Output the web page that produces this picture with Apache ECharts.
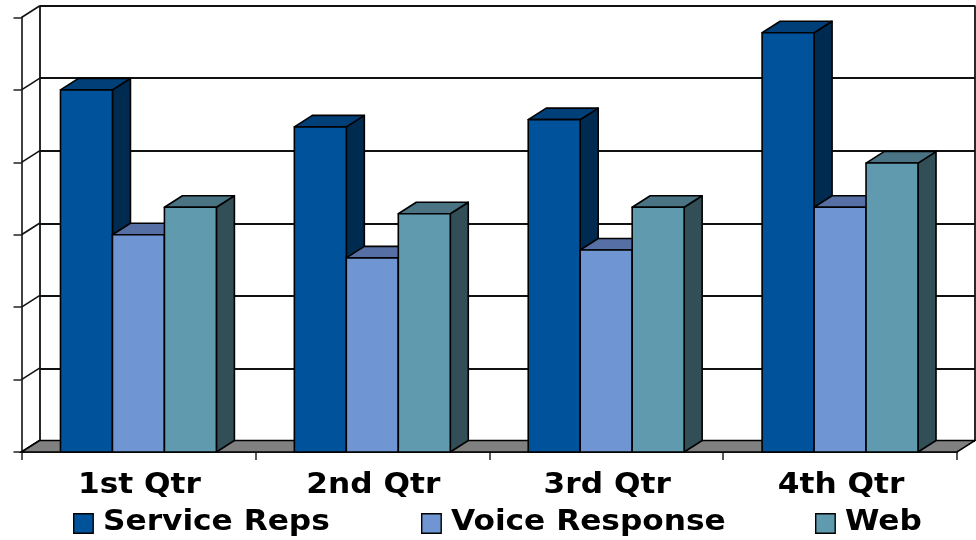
<!DOCTYPE html>
<html>
<head>
<meta charset="utf-8">
<style>html,body{margin:0;padding:0;background:#fff}#chart{width:976px;height:540px}</style>
<script src="https://cdn.jsdelivr.net/npm/echarts@6/dist/echarts.min.js"></script>
</head>
<body>
<div id="chart"></div>
<script>
const categories = ['1st Qtr', '2nd Qtr', '3rd Qtr', '4th Qtr'];
const seriesNames = ['Service Reps', 'Voice Response', 'Web'];
const serviceReps = [50, 44.9, 45.9, 57.9];
const voiceResponse = [30, 26.8, 27.9, 33.8];
const web = [33.8, 32.9, 33.8, 39.9];
const valueTicks = [0, 10, 20, 30, 40, 50, 60];

// Oblique projection of the box depth, in pixels
const DEPTH_X = 18;
const DEPTH_Y = 11.5;
const EDGE = '#000';

// Text is set in a wide bold face: DejaVu Sans Bold stretched horizontally
const TEXT = { fill: '#000', fontFamily: 'DejaVu Sans', fontWeight: 'bold', fontSize: 28 };
const TEXT_STRETCH = 1.115;

const FACES = [
  { front: '#00529b', top: '#003f78', side: '#002b50' },
  { front: '#6f96d3', top: '#5670a5', side: '#3b5278' },
  { front: '#5f9aae', top: '#4a7383', side: '#324f58' }
];

function box3d(slot, faces) {
  return function (params, api) {
    const base = api.coord([api.value(0), 0]);
    const head = api.coord([api.value(0), api.value(1)]);
    const w = api.size([1, 0])[0] / 4.5;
    const x0 = base[0] + (slot - 0.5) * w;
    const x1 = x0 + w;
    const y0 = base[1];
    const y1 = head[1];
    const line = { stroke: EDGE, lineWidth: 1.6, lineJoin: 'round' };
    const poly = (points, fill) => ({
      type: 'polygon', shape: { points }, style: Object.assign({ fill }, line)
    });
    return {
      type: 'group',
      children: [
        poly([[x1, y0], [x1 + DEPTH_X, y0 - DEPTH_Y], [x1 + DEPTH_X, y1 - DEPTH_Y], [x1, y1]], faces.side),
        poly([[x0, y1], [x1, y1], [x1 + DEPTH_X, y1 - DEPTH_Y], [x0 + DEPTH_X, y1 - DEPTH_Y]], faces.top),
        poly([[x0, y0], [x1, y0], [x1, y1], [x0, y1]], faces.front)
      ]
    };
  };
}

function barSeries(name, values, slot, faces) {
  return {
    name,
    type: 'custom',
    xAxisIndex: 0,
    yAxisIndex: 0,
    z: 5,
    clip: false,
    itemStyle: { color: faces.front },
    encode: { x: 0, y: 1 },
    data: values.map((v, i) => [categories[i], v]),
    renderItem: box3d(slot, faces)
  };
}

// Grey floor between the front axis and the back wall
function renderFloor(params) {
  const cs = params.coordSys;
  const y = cs.y + cs.height;
  const x0 = cs.x, x1 = cs.x + cs.width;
  return {
    type: 'polygon',
    shape: { points: [[x0, y], [x1, y], [x1 + DEPTH_X, y - DEPTH_Y], [x0 + DEPTH_X, y - DEPTH_Y]] },
    style: { fill: '#808080', stroke: EDGE, lineWidth: 1.6 }
  };
}

// Diagonal from each value tick on the front axis to the back wall
function renderWallDiagonal(params, api) {
  const p = api.coord([categories[0], api.value(0)]);
  const x = params.coordSys.x;
  return {
    type: 'line',
    shape: { x1: x, y1: p[1], x2: x + DEPTH_X, y2: p[1] - DEPTH_Y },
    style: { stroke: '#111', lineWidth: 1.6 }
  };
}

// Category names under the axis, centred on their bands
function renderCategoryLabel(params, api) {
  const p = api.coord([api.value(0), 0]);
  return {
    type: 'text',
    x: p[0] + 1,
    y: p[1] + 33.5,
    scaleX: TEXT_STRETCH,
    style: Object.assign({ text: categories[params.dataIndex], align: 'center', verticalAlign: 'middle' }, TEXT)
  };
}

// Key row along the bottom edge: swatch left coordinate for each series
const KEY_LEFT = [73, 421, 815];
const KEY_TOP = 513;
const KEY_SIZE = 19.5;
const KEY_TEXT_OFFSET = 30;
const keyElements = seriesNames.flatMap((name, i) => [
  {
    type: 'rect', left: KEY_LEFT[i], top: KEY_TOP,
    shape: { width: KEY_SIZE, height: KEY_SIZE },
    style: { fill: FACES[i].front, stroke: EDGE, lineWidth: 1.4 }
  },
  {
    type: 'text', x: KEY_LEFT[i] + KEY_TEXT_OFFSET, y: KEY_TOP + 10,
    scaleX: TEXT_STRETCH,
    style: Object.assign({ text: name, align: 'left', verticalAlign: 'middle' }, TEXT)
  }
]);

const chart = echarts.init(document.getElementById('chart'), null, { renderer: 'canvas' });
chart.setOption({
  animation: false,
  backgroundColor: '#fff',
  grid: [
    { left: 21.5, right: 19, top: 17.5, bottom: 88 },
    { left: 39.5, right: 1, top: 5.5, bottom: 99 }
  ],
  xAxis: [
    {
      type: 'category', gridIndex: 0, data: categories,
      axisLine: { lineStyle: { color: EDGE, width: 1.6 } },
      axisTick: { show: true, length: 8, alignWithLabel: false, lineStyle: { color: '#222', width: 1.5 } },
      axisLabel: { show: false },
      splitLine: { show: false }, z: 1
    },
    {
      type: 'value', gridIndex: 1, min: 0, max: 1, interval: 1,
      axisLine: { show: false }, axisTick: { show: false }, axisLabel: { show: false },
      splitLine: { show: true, lineStyle: { color: '#111', width: 1.8 } }
    }
  ],
  yAxis: [
    {
      type: 'value', gridIndex: 0, min: 0, max: 60, interval: 10,
      axisLine: { show: true, lineStyle: { color: '#111', width: 1.6 } },
      axisTick: { show: true, length: 8, lineStyle: { color: '#222', width: 1.5 } },
      axisLabel: { show: false }, splitLine: { show: false }, z: 1
    },
    {
      type: 'value', gridIndex: 1, min: 0, max: 60, interval: 10,
      axisLine: { show: false }, axisTick: { show: false }, axisLabel: { show: false },
      splitLine: { show: true, lineStyle: { color: '#111', width: 1.8 } }
    }
  ],
  graphic: { elements: keyElements },
  series: [
    {
      name: 'wall', type: 'custom', xAxisIndex: 0, yAxisIndex: 0, z: 2, clip: false, silent: true,
      encode: { y: 0 }, data: valueTicks.map(v => [v]), renderItem: renderWallDiagonal
    },
    {
      name: 'floor', type: 'custom', xAxisIndex: 0, yAxisIndex: 0, z: 3, clip: false, silent: true,
      data: [[0]], renderItem: renderFloor
    },
    barSeries(seriesNames[0], serviceReps, -1, FACES[0]),
    barSeries(seriesNames[1], voiceResponse, 0, FACES[1]),
    barSeries(seriesNames[2], web, 1, FACES[2]),
    {
      name: 'labels', type: 'custom', xAxisIndex: 0, yAxisIndex: 0, z: 6, clip: false, silent: true,
      encode: { x: 0 }, data: categories.map(c => [c]), renderItem: renderCategoryLabel
    }
  ]
});
</script>
</body>
</html>
